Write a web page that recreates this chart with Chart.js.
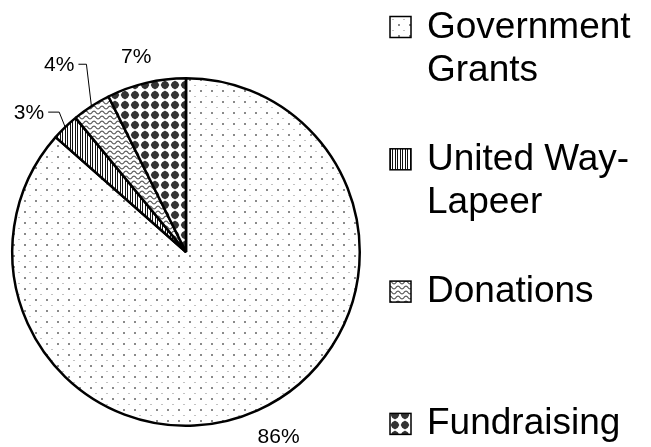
<!DOCTYPE html>
<html>
<head>
<meta charset="utf-8">
<script src="https://cdn.jsdelivr.net/npm/chart.js@4/dist/chart.umd.min.js"></script>
<style>
  html, body { margin: 0; padding: 0; background: #fff; }
  #wrap { width: 651px; height: 447px; }
</style>
</head>
<body>
<div id="wrap"><canvas id="fundingPie" width="651" height="447"></canvas></div>
<script>
// data
const categories = ["Government Grants", "United Way-Lapeer", "Donations", "Fundraising"];
const legendLines = [["Government", "Grants"], ["United Way-", "Lapeer"], ["Donations"], ["Fundraising"]];
const shares = [86.49, 2.55, 3.6, 7.36];
const fills = ["dots", "stripes", "waves", "blobs"];

// label placement relative to the rim point at each slice's middle angle
const labelPlace = [
  { dx: 21, dy: 33, align: "center" },
  { dx: -6, dy: -15, leader: 11, align: "right" },
  { dx: -5, dy: -42, leader: 8, align: "right" },
  { dx: -10, dy: -20, align: "center" },
];

function makePattern(kind) {
  const c = document.createElement("canvas");
  const g = c.getContext("2d");
  if (kind === "dots") {
    c.width = 11; c.height = 11;
    g.fillStyle = "#fff"; g.fillRect(0, 0, 11, 11);
    g.fillStyle = "#8a8a8a"; g.fillRect(2, 2, 2, 2);
    g.fillStyle = "#c2c2c2"; g.fillRect(7, 8, 2, 1);
  } else if (kind === "stripes") {
    c.width = 5; c.height = 1;
    g.fillStyle = "#fff"; g.fillRect(0, 0, 5, 1);
    g.fillStyle = "#111"; g.fillRect(0, 0, 1, 1); g.fillRect(2, 0, 1, 1);
  } else if (kind === "waves") {
    c.width = 8; c.height = 5;
    g.fillStyle = "#fff"; g.fillRect(0, 0, 8, 5);
    g.strokeStyle = "#555"; g.lineWidth = 1.1;
    g.beginPath();
    for (let x = -1; x <= 9; x += 0.5) {
      const y = 2.5 + 1.4 * Math.sin((x / 8) * Math.PI * 2);
      if (x === -1) g.moveTo(x, y); else g.lineTo(x, y);
    }
    g.stroke();
  } else {
    c.width = 10; c.height = 10;
    g.fillStyle = "#fff"; g.fillRect(0, 0, 10, 10);
    g.fillStyle = "#333";
    g.beginPath();
    g.moveTo(5, 0.6); g.lineTo(9.4, 5); g.lineTo(5, 9.4); g.lineTo(0.6, 5);
    g.closePath(); g.fill();
    g.beginPath(); g.arc(5, 5, 3.7, 0, Math.PI * 2); g.fill();
  }
  return g.createPattern(c, "repeat");
}

const FONT = "'Liberation Sans', Arial, sans-serif";

const whiteBg = {
  id: "whiteBg",
  beforeDraw(chart) {
    const ctx = chart.ctx;
    ctx.save();
    ctx.fillStyle = "#fff";
    ctx.fillRect(0, 0, chart.width, chart.height);
    ctx.restore();
  },
};

const sliceLabels = {
  id: "sliceLabels",
  afterDatasetsDraw(chart) {
    const ctx = chart.ctx;
    const arcs = chart.getDatasetMeta(0).data;
    const total = shares.reduce((a, b) => a + b, 0);
    ctx.save();
    ctx.font = "21px " + FONT;
    ctx.fillStyle = "#000";
    ctx.strokeStyle = "#000";
    ctx.lineWidth = 1;
    arcs.forEach((arc, i) => {
      const mid = (arc.startAngle + arc.endAngle) / 2;
      const rx = arc.x + Math.cos(mid) * arc.outerRadius;
      const ry = arc.y + Math.sin(mid) * arc.outerRadius;
      const p = labelPlace[i];
      const text = Math.round((shares[i] / total) * 100) + "%";
      const ex = rx + p.dx, ey = ry + p.dy;
      ctx.textAlign = p.align;
      if (p.leader) {
        ctx.beginPath();
        ctx.moveTo(rx, ry);
        ctx.lineTo(ex, ey);
        ctx.lineTo(ex - p.leader, ey);
        ctx.stroke();
        ctx.fillText(text, ex - p.leader - 4, ey + 7);
      } else {
        ctx.fillText(text, ex, ey);
      }
    });
    ctx.restore();
  },
};

const sideLegend = {
  id: "sideLegend",
  afterDraw(chart) {
    const ctx = chart.ctx;
    const ds = chart.data.datasets[0];
    ctx.save();
    ctx.font = "37px " + FONT;
    ctx.textAlign = "left";
    ctx.textBaseline = "alphabetic";
    legendLines.forEach((lines, i) => {
      const base = 37.5 + i * 132.3;
      ctx.fillStyle = ds.backgroundColor[i];
      ctx.fillRect(390, base - 21, 21, 21);
      ctx.strokeStyle = "#000";
      ctx.lineWidth = 1.5;
      ctx.strokeRect(390, base - 21, 21, 21);
      ctx.fillStyle = "#000";
      lines.forEach((line, k) => ctx.fillText(line, 427, base + k * 43));
    });
    ctx.restore();
  },
};

new Chart(document.getElementById("fundingPie"), {
  type: "pie",
  data: {
    labels: categories,
    datasets: [
      {
        data: shares,
        backgroundColor: fills.map(makePattern),
        borderColor: "#000",
        borderWidth: 2.5,
      },
    ],
  },
  options: {
    responsive: false,
    animation: false,
    layout: { padding: { left: 11, right: 290, top: 77, bottom: 20 } },
    plugins: {
      legend: { display: false },
      tooltip: { enabled: false },
    },
  },
  plugins: [whiteBg, sliceLabels, sideLegend],
});
</script>
</body>
</html>
